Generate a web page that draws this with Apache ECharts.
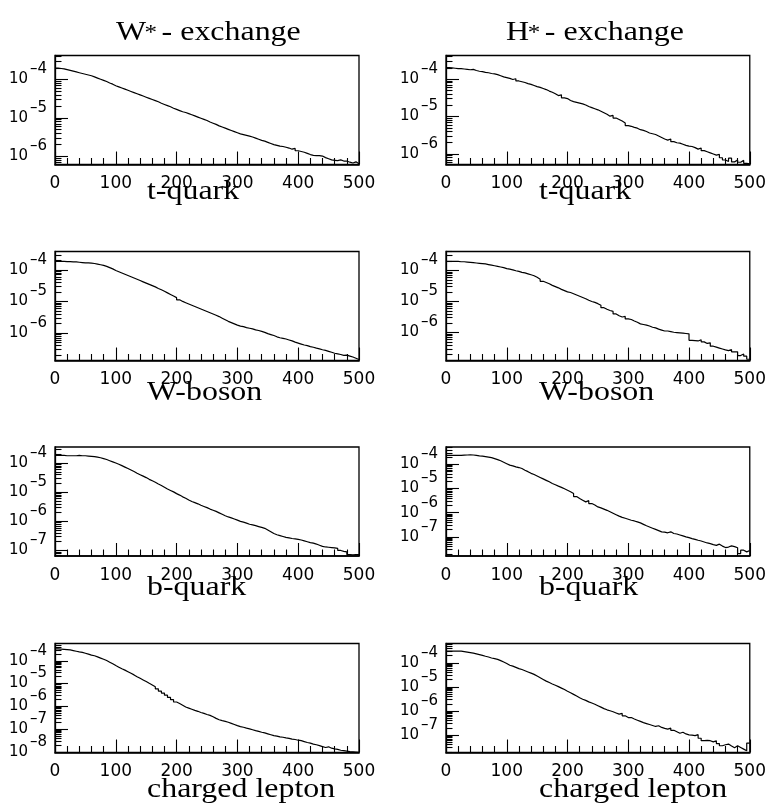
<!DOCTYPE html>
<html>
<head>
<meta charset="utf-8">
<script src="https://cdn.jsdelivr.net/npm/echarts@6/dist/echarts.min.js"></script>
<style>
  html, body { margin: 0; background: #fff; }
  #chart { width: 769px; height: 805px; }
</style>
</head>
<body>
<div id="chart"></div>
<script>
// 100 bins of width 5 on 0..500; every value below is log10 of the bin content
const binWidth = 5;
const xMax = 500;

const tQuarkW = [
  -3.70, -3.71, -3.72, -3.74, -3.76, -3.78, -3.80, -3.82, -3.84, -3.86,
  -3.88, -3.90, -3.93, -3.96, -3.99, -4.02, -4.05, -4.09, -4.12, -4.16,
  -4.19, -4.22, -4.25, -4.28, -4.31, -4.34, -4.37, -4.40, -4.43, -4.46,
  -4.49, -4.52, -4.55, -4.58, -4.62, -4.65, -4.68, -4.71, -4.75, -4.78,
  -4.81, -4.84, -4.86, -4.89, -4.92, -4.95, -4.98, -5.01, -5.04, -5.07,
  -5.11, -5.14, -5.17, -5.21, -5.24, -5.27, -5.30, -5.33, -5.36, -5.39,
  -5.42, -5.44, -5.46, -5.48, -5.50, -5.53, -5.56, -5.59, -5.61, -5.64,
  -5.67, -5.70, -5.72, -5.74, -5.75, -5.77, -5.79, -5.82, -5.80, -5.86,
  -5.88, -5.90, -5.93, -5.96, -5.98, -5.99, -5.99, -6.00, -6.04, -6.07,
  -6.10, -6.11, -6.12, -6.10, -6.13, -6.13, -6.16, -6.18, -6.15, -6.20
];
const tQuarkH = [
  -3.69, -3.70, -3.71, -3.72, -3.72, -3.73, -3.74, -3.75, -3.74, -3.77,
  -3.79, -3.80, -3.82, -3.83, -3.85, -3.86, -3.88, -3.91, -3.94, -3.96,
  -3.98, -4.01, -3.99, -4.05, -4.07, -4.09, -4.12, -4.14, -4.17, -4.20,
  -4.22, -4.25, -4.28, -4.32, -4.35, -4.39, -4.44, -4.42, -4.50, -4.52,
  -4.57, -4.60, -4.62, -4.64, -4.66, -4.69, -4.73, -4.76, -4.79, -4.82,
  -4.86, -4.90, -4.94, -4.99, -4.97, -5.04, -5.08, -5.12, -5.17, -5.24,
  -5.26, -5.29, -5.31, -5.35, -5.37, -5.40, -5.44, -5.46, -5.48, -5.52,
  -5.56, -5.60, -5.63, -5.60, -5.67, -5.70, -5.71, -5.74, -5.77, -5.79,
  -5.80, -5.83, -5.87, -5.84, -5.91, -5.94, -5.97, -6.00, -6.03, -6.01,
  -6.10, -6.16, -6.20, -6.11, -6.21, -6.16, -6.22, -6.17, -6.25, -6.26
];
const wBosonW = [
  -3.73, -3.73, -3.73, -3.74, -3.74, -3.75, -3.75, -3.76, -3.77, -3.78,
  -3.78, -3.79, -3.80, -3.82, -3.84, -3.86, -3.89, -3.93, -3.97, -4.02,
  -4.06, -4.10, -4.14, -4.18, -4.22, -4.26, -4.30, -4.34, -4.38, -4.42,
  -4.46, -4.50, -4.54, -4.59, -4.63, -4.68, -4.73, -4.78, -4.83, -4.88,
  -4.95, -5.00, -5.04, -5.08, -5.12, -5.16, -5.20, -5.24, -5.28, -5.32,
  -5.36, -5.40, -5.44, -5.48, -5.53, -5.58, -5.63, -5.67, -5.71, -5.75,
  -5.78, -5.80, -5.83, -5.85, -5.87, -5.90, -5.92, -5.95, -5.98, -6.02,
  -6.05, -6.08, -6.12, -6.15, -6.17, -6.19, -6.22, -6.25, -6.29, -6.32,
  -6.35, -6.38, -6.40, -6.43, -6.45, -6.48, -6.50, -6.53, -6.55, -6.58,
  -6.61, -6.64, -6.66, -6.68, -6.71, -6.70, -6.73, -6.76, -6.80, -6.84
];
const wBosonH = [
  -3.71, -3.71, -3.71, -3.71, -3.72, -3.72, -3.73, -3.74, -3.75, -3.76,
  -3.77, -3.78, -3.79, -3.81, -3.83, -3.85, -3.87, -3.89, -3.91, -3.94,
  -3.96, -3.98, -4.01, -4.03, -4.06, -4.08, -4.11, -4.14, -4.17, -4.22,
  -4.28, -4.35, -4.39, -4.43, -4.48, -4.52, -4.56, -4.61, -4.65, -4.69,
  -4.71, -4.75, -4.79, -4.83, -4.87, -4.91, -4.96, -5.00, -5.03, -5.07,
  -5.12, -5.20, -5.25, -5.29, -5.32, -5.40, -5.46, -5.50, -5.48, -5.56,
  -5.58, -5.63, -5.67, -5.72, -5.74, -5.76, -5.79, -5.83, -5.85, -5.89,
  -5.92, -5.95, -5.95, -5.97, -5.99, -6.00, -6.01, -6.02, -6.03, -6.04,
  -6.25, -6.26, -6.27, -6.23, -6.30, -6.35, -6.33, -6.44, -6.47, -6.50,
  -6.53, -6.56, -6.58, -6.55, -6.62, -6.62, -6.74, -6.69, -6.76, -6.86
];
const bQuarkW = [
  -3.74, -3.74, -3.74, -3.75, -3.75, -3.75, -3.75, -3.74, -3.75, -3.75,
  -3.76, -3.77, -3.78, -3.80, -3.82, -3.85, -3.88, -3.92, -3.96, -4.00,
  -4.04, -4.09, -4.14, -4.19, -4.24, -4.29, -4.35, -4.40, -4.45, -4.50,
  -4.56, -4.61, -4.66, -4.72, -4.77, -4.83, -4.89, -4.94, -4.99, -5.05,
  -5.10, -5.16, -5.21, -5.27, -5.32, -5.36, -5.40, -5.45, -5.49, -5.53,
  -5.58, -5.62, -5.66, -5.71, -5.76, -5.81, -5.85, -5.88, -5.92, -5.96,
  -6.00, -6.03, -6.06, -6.10, -6.12, -6.15, -6.18, -6.21, -6.24, -6.30,
  -6.36, -6.42, -6.46, -6.49, -6.52, -6.55, -6.57, -6.59, -6.60, -6.62,
  -6.64, -6.67, -6.70, -6.73, -6.75, -6.78, -6.82, -6.86, -6.88, -6.89,
  -6.90, -6.91, -6.93, -7.00, -7.03, -7.05, -7.14, -7.15, -7.14, -7.14
];
const bQuarkH = [
  -3.63, -3.63, -3.63, -3.63, -3.63, -3.62, -3.61, -3.60, -3.61, -3.63,
  -3.65, -3.66, -3.68, -3.70, -3.72, -3.76, -3.80, -3.85, -3.91, -3.97,
  -4.03, -4.06, -4.10, -4.13, -4.17, -4.24, -4.30, -4.37, -4.42, -4.48,
  -4.54, -4.60, -4.66, -4.72, -4.79, -4.84, -4.90, -4.95, -5.01, -5.07,
  -5.13, -5.20, -5.33, -5.41, -5.48, -5.55, -5.50, -5.62, -5.68, -5.76,
  -5.80, -5.85, -5.90, -5.96, -6.02, -6.08, -6.14, -6.19, -6.23, -6.27,
  -6.31, -6.34, -6.38, -6.42, -6.48, -6.54, -6.59, -6.64, -6.69, -6.74,
  -6.79, -6.80, -6.83, -6.79, -6.86, -6.88, -6.92, -6.96, -7.00, -7.03,
  -7.07, -7.10, -7.14, -7.17, -7.21, -7.25, -7.28, -7.32, -7.35, -7.30,
  -7.38, -7.44, -7.42, -7.37, -7.40, -7.45, -7.69, -7.55, -7.62, -7.56
];
const leptonW = [
  -3.48, -3.49, -3.50, -3.51, -3.52, -3.55, -3.58, -3.61, -3.63, -3.67,
  -3.71, -3.75, -3.78, -3.83, -3.88, -3.93, -3.99, -4.06, -4.13, -4.21,
  -4.28, -4.35, -4.41, -4.48, -4.55, -4.62, -4.70, -4.77, -4.84, -4.91,
  -4.99, -5.06, -5.14, -5.23, -5.33, -5.42, -5.51, -5.61, -5.71, -5.81,
  -5.88, -5.95, -6.03, -6.08, -6.13, -6.18, -6.22, -6.27, -6.31, -6.36,
  -6.40, -6.46, -6.53, -6.59, -6.63, -6.66, -6.70, -6.75, -6.80, -6.85,
  -6.89, -6.92, -6.96, -6.99, -7.03, -7.07, -7.10, -7.14, -7.17, -7.21,
  -7.25, -7.29, -7.31, -7.34, -7.36, -7.39, -7.41, -7.44, -7.46, -7.49,
  -7.51, -7.55, -7.59, -7.62, -7.66, -7.69, -7.73, -7.77, -7.81, -7.78,
  -7.84, -7.87, -7.89, -7.93, -7.95, -7.97, -7.99, -8.00, -8.01, -8.02
];
const leptonH = [
  -3.52, -3.52, -3.52, -3.52, -3.52, -3.54, -3.56, -3.58, -3.60, -3.63,
  -3.66, -3.69, -3.73, -3.76, -3.80, -3.83, -3.86, -3.91, -3.97, -4.03,
  -4.10, -4.14, -4.19, -4.24, -4.28, -4.33, -4.38, -4.43, -4.48, -4.55,
  -4.62, -4.69, -4.76, -4.82, -4.88, -4.93, -4.99, -5.05, -5.11, -5.18,
  -5.24, -5.31, -5.38, -5.45, -5.51, -5.56, -5.62, -5.67, -5.72, -5.78,
  -5.84, -5.90, -5.95, -5.99, -6.03, -6.08, -6.13, -6.10, -6.20, -6.27,
  -6.27, -6.33, -6.38, -6.43, -6.48, -6.52, -6.56, -6.60, -6.64, -6.61,
  -6.68, -6.72, -6.75, -6.71, -6.80, -6.86, -6.92, -6.88, -6.95, -6.99,
  -7.00, -7.02, -6.98, -7.13, -7.23, -7.22, -7.23, -7.28, -7.23, -7.35,
  -7.44, -7.40, -7.37, -7.45, -7.52, -7.44, -7.51, -7.58, -7.65, -7.33
];

const columnTitles = ['W', 'H'];
const rowTitles = ['t-quark', 'W-boson', 'b-quark', 'charged lepton'];

// panel order: row by row, W* column first
const panels = [
  { bins: tQuarkW, yMin: -6.22, yMax: -3.37 },
  { bins: tQuarkH, yMin: -6.28, yMax: -3.37 },
  { bins: wBosonW, yMin: -6.87, yMax: -3.42 },
  { bins: wBosonH, yMin: -6.90, yMax: -3.39 },
  { bins: bQuarkW, yMin: -7.19, yMax: -3.45 },
  { bins: bQuarkH, yMin: -7.79, yMax: -3.28 },
  { bins: leptonW, yMin: -8.03, yMax: -3.24 },
  { bins: leptonH, yMin: -7.72, yMax: -3.20 }
];

const colLeft = [55, 446];
const colWidth = [304, 305];
const rowTop = [55.5, 251.5, 447, 643.5];
const panelHeight = 109;
const rowTitleBaseline = [201, 402, 597, 799];
const rowTitleLeft = [147, 539];
const exponentLift = 10; // px the exponent sits above its "10"

const tickFont = '"DejaVu Sans", sans-serif';
const titleFont = '"Liberation Serif", "Times New Roman", serif';
const black = '#000';

function decades(p) {
  const out = [];
  for (let n = Math.ceil(p.yMin); n <= Math.floor(p.yMax); n++) out.push(n);
  return out;
}

function minorValues(p) {
  const out = [];
  for (let n = Math.floor(p.yMin); n <= Math.floor(p.yMax); n++) {
    for (let k = 2; k <= 9; k++) {
      const v = n + Math.log10(k);
      if (v > p.yMin && v < p.yMax) out.push(v);
    }
  }
  return out;
}

const grid = [];
const xAxis = [];
const yAxis = [];
const series = [];

panels.forEach((p, i) => {
  const row = Math.floor(i / 2);
  const col = i % 2;
  const lift = exponentLift * (p.yMax - p.yMin) / panelHeight;
  grid.push({
    left: colLeft[col],
    top: rowTop[row],
    width: colWidth[col],
    height: panelHeight,
    show: true,
    borderColor: black,
    borderWidth: 1.3,
    backgroundColor: 'transparent'
  });
  xAxis.push({
    type: 'value',
    gridIndex: i,
    min: 0,
    max: xMax,
    interval: 100,
    axisLine: { lineStyle: { color: black, width: 1.6 } },
    axisTick: { inside: true, length: 13, lineStyle: { color: black, width: 1.1 } },
    minorTick: { show: true, splitNumber: 5, length: 6.5, lineStyle: { color: black, width: 1.1 } },
    splitLine: { show: false },
    axisLabel: { margin: 11, fontSize: 17, fontFamily: tickFont, color: black }
  });
  const base = {
    type: 'value',
    gridIndex: i,
    position: 'left',
    offset: 0,
    min: p.yMin,
    max: p.yMax,
    splitLine: { show: false }
  };
  // decade ticks with the "10" of each label
  yAxis.push(Object.assign({}, base, {
    axisLine: { show: true, lineStyle: { color: black, width: 1.3 } },
    axisTick: { inside: true, length: 13, customValues: decades(p), lineStyle: { color: black, width: 1.1 } },
    axisLabel: {
      customValues: decades(p),
      showMinLabel: true,
      showMaxLabel: true,
      margin: 27,
      fontSize: 15,
      fontFamily: tickFont,
      color: black,
      formatter: () => '10'
    }
  }));
  // 2..9 x 10^n ticks
  yAxis.push(Object.assign({}, base, {
    axisLine: { show: false },
    axisTick: { inside: true, length: 6.5, customValues: minorValues(p), lineStyle: { color: black, width: 1.1 } },
    axisLabel: { show: false }
  }));
  // exponents, raised above their "10"
  yAxis.push(Object.assign({}, base, {
    axisLine: { show: false },
    axisTick: { show: false },
    axisLabel: {
      customValues: decades(p).map((n) => n + lift),
      showMinLabel: true,
      showMaxLabel: true,
      margin: 8,
      fontSize: 15,
      fontFamily: tickFont,
      color: black,
      formatter: (v) => '\u2013' + Math.abs(Math.round(v - lift))
    }
  }));
  const points = p.bins.map((v, k) => [k * binWidth, v]);
  points.push([xMax, p.bins[p.bins.length - 1]]);
  series.push({
    type: 'line',
    xAxisIndex: i,
    yAxisIndex: 3 * i,
    step: 'end',
    showSymbol: false,
    data: points,
    lineStyle: { color: black, width: 1.2 },
    silent: true
  });
});

function serifText(x, baseline, text, size) {
  return {
    type: 'text',
    x: x,
    y: baseline - size * 0.35,
    scaleX: 1.14,
    style: {
      text: text,
      fontFamily: titleFont,
      fontSize: size,
      fill: black,
      align: 'left',
      verticalAlign: 'middle'
    }
  };
}

const graphic = [];
const headLeft = [116, 506];
columnTitles.forEach((letter, c) => {
  const w = letter === 'W' ? 29.6 : 22.8;
  graphic.push(serifText(headLeft[c], 42, letter, 28));
  graphic.push(serifText(headLeft[c] + w - 1, 41, '*', 22));
  graphic.push(serifText(headLeft[c] + w + 16, 42, '- exchange', 28));
});
rowTitles.forEach((t, r) => {
  rowTitleLeft.forEach((x) => graphic.push(serifText(x, rowTitleBaseline[r], t, 28)));
});

const chart = echarts.init(document.getElementById('chart'));
chart.setOption({
  animation: false,
  backgroundColor: '#fff',
  grid,
  xAxis,
  yAxis,
  series,
  graphic
});
</script>
</body>
</html>
